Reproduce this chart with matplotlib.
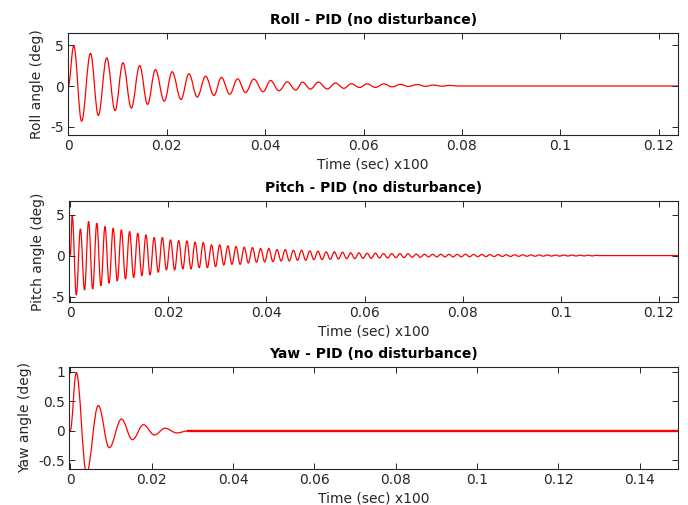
import matplotlib
matplotlib.use("Agg")
import matplotlib.pyplot as plt
from matplotlib.path import Path
from matplotlib.patches import PathPatch

# --- values --------------------------------------------------------------
# Roll: extrema of the damped oscillation (time x100 s, deg)
roll_t = [0.0, 0.0011, 0.0027, 0.0045, 0.0061, 0.0078, 0.0095, 0.0111, 0.0128,
          0.0145, 0.0161, 0.0177, 0.0195, 0.0211, 0.0229, 0.0245, 0.0262, 0.0279,
          0.0296, 0.0311, 0.0328, 0.0344, 0.0360, 0.0377, 0.0396, 0.0411, 0.0428,
          0.0445, 0.0462, 0.0476, 0.0492, 0.0508, 0.0526, 0.0543, 0.0560, 0.0575,
          0.0592, 0.0607, 0.0624, 0.0641, 0.0658, 0.0675, 0.0691, 0.0709, 0.0726,
          0.0742, 0.0759, 0.0776, 0.0792, 0.1239]
roll_v = [0.0, 4.95, -4.3, 4.0, -3.6, 3.45, -3.0, 2.85, -2.7,
          2.5, -2.25, 2.0, -1.85, 1.75, -1.65, 1.5, -1.35, 1.2,
          -1.15, 1.05, -1.0, 0.88, -0.8, 0.85, -0.7, 0.68, -0.58,
          0.5, -0.5, 0.48, -0.38, 0.48, -0.36, 0.36, -0.28, 0.28,
          -0.18, 0.27, -0.17, 0.26, -0.1, 0.2, -0.05, 0.18, -0.04,
          0.12, -0.02, 0.08, 0.0, 0.0]

# Pitch: first crest time, oscillation period, crest / trough heights per cycle
pitch_t0 = 0.0004
pitch_period = 0.00167
pitch_end = 0.1239
pitch_peaks = [4.88, 3.25, 4.15, 3.94, 3.54, 3.33, 3.13, 2.93, 2.72, 2.52, 2.2,
               2.2, 1.91, 1.83, 1.79, 1.63, 1.59, 1.3, 1.3, 1.18, 1.1, 1.02,
               0.98, 0.85, 0.85, 0.73, 0.73, 0.65, 0.65, 0.57, 0.53, 0.45, 0.45,
               0.41, 0.33, 0.33, 0.28, 0.3, 0.24, 0.24, 0.24, 0.22, 0.18, 0.16,
               0.16, 0.16, 0.15, 0.15, 0.16, 0.14, 0.14, 0.12, 0.12, 0.1, 0.1,
               0.1, 0.08, 0.08, 0.08, 0.06, 0.06, 0.06, 0.05, 0.05, 0.04]
pitch_troughs = [-4.8, -4.2, -4.07, -3.66, -3.37, -3.09, -2.85, -2.68, -2.44,
                 -2.36, -2.03, -1.75, -1.75, -1.63, -1.63, -1.46, -1.46, -1.34,
                 -1.14, -1.06, -1.06, -0.9, -0.8, -0.77, -0.73, -0.65, -0.65,
                 -0.57, -0.57, -0.49, -0.49, -0.45, -0.41, -0.37, -0.37, -0.33,
                 -0.33, -0.28, -0.28, -0.24, -0.24, -0.2, -0.2, -0.16, -0.16,
                 -0.16, -0.16, -0.15, -0.14, -0.13, -0.12, -0.11, -0.1, -0.1,
                 -0.09, -0.08, -0.08, -0.07, -0.06, -0.06, -0.05, -0.05, -0.04,
                 -0.04]

# Yaw: extrema of the damped oscillation, then a noisy flat tail at zero
yaw_t = [0.0, 0.0015, 0.0040, 0.0069, 0.0096, 0.0126, 0.0153, 0.0180, 0.0207,
         0.0233, 0.0262, 0.0290]
yaw_v = [0.0, 0.99, -0.72, 0.43, -0.285, 0.2, -0.15, 0.105, -0.07,
         0.045, -0.035, 0.0]
yaw_end = 0.15

xticks_a = [0, 0.02, 0.04, 0.06, 0.08, 0.1, 0.12]
xlabels_a = ["0", "0.02", "0.04", "0.06", "0.08", "0.1", "0.12"]
xticks_y = [0, 0.02, 0.04, 0.06, 0.08, 0.1, 0.12, 0.14]
xlabels_y = ["0", "0.02", "0.04", "0.06", "0.08", "0.1", "0.12", "0.14"]
yticks_rp = [-5, 0, 5]
ylabels_rp = ["-5", "0", "5"]
yticks_yaw = [-0.5, 0, 0.5, 1]
ylabels_yaw = ["-0.5", "0", "0.5", "1"]

# pitch line: crest, trough, crest, ... then flat to the end
pitch_t = [0.0]
pitch_v = [0.0]
for k, p in enumerate(pitch_peaks):
    pitch_t.append(pitch_t0 + k * pitch_period)
    pitch_v.append(p)
    if k < len(pitch_troughs):
        pitch_t.append(pitch_t0 + (k + 0.5) * pitch_period)
        pitch_v.append(pitch_troughs[k])
pitch_t += [pitch_t[-1] + pitch_period / 4, pitch_end]
pitch_v += [0.0, 0.0]

GRAY = "#262626"
plt.rcParams["font.family"] = "DejaVu Sans"
plt.rcParams["font.size"] = 10

fig = plt.figure(figsize=(6.88, 5.05), dpi=100)


def wave(ax, ts, vs, lw=0.9):
    # smooth line through the extrema (flat tangent at each crest/trough)
    verts = [(ts[0], vs[0])]
    codes = [Path.MOVETO]
    for i in range(1, len(ts)):
        d = 0.37 * (ts[i] - ts[i - 1])
        verts += [(ts[i - 1] + d, vs[i - 1]), (ts[i] - d, vs[i]), (ts[i], vs[i])]
        codes += [Path.CURVE4] * 3
    ax.add_patch(PathPatch(Path(verts, codes), facecolor="none",
                           edgecolor="red", lw=lw))


def style(ax, title, ylabel, xticks, xlabels, yticks, ylabels):
    ax.set_title(title, fontsize=10, fontweight="bold", color="black", pad=6.5)
    ax.set_ylabel(ylabel, color=GRAY, labelpad=4.5)
    ax.set_xlabel("Time (sec) x100", color=GRAY, labelpad=3)
    ax.set_xticks(xticks)
    ax.set_xticklabels(xlabels)
    ax.set_yticks(yticks)
    ax.set_yticklabels(ylabels)
    ax.tick_params(direction="in", top=True, right=True, length=4, width=0.7,
                   colors=GRAY, labelcolor=GRAY, pad=3)
    for s in ax.spines.values():
        s.set_color(GRAY)
        s.set_linewidth(0.8)


ax1 = fig.add_axes([0.0993, 0.7327, 0.8862, 0.202])
wave(ax1, roll_t, roll_v)
ax1.set_xlim(0, 0.1239)
ax1.set_ylim(-6.0, 6.5)
style(ax1, "Roll - PID (no disturbance)", "Roll angle (deg)",
      xticks_a, xlabels_a, yticks_rp, ylabels_rp)

ax2 = fig.add_axes([0.1007, 0.402, 0.8848, 0.2])
wave(ax2, pitch_t, pitch_v)
ax2.set_xlim(-0.0002, 0.1239)
ax2.set_ylim(-5.65, 6.65)
style(ax2, "Pitch - PID (no disturbance)", "Pitch angle (deg)",
      xticks_a, xlabels_a, yticks_rp, ylabels_rp)

ax3 = fig.add_axes([0.1003, 0.0713, 0.8852, 0.202])
wave(ax3, yaw_t, yaw_v)
ax3.plot([yaw_t[-1], yaw_end], [0.0, 0.0], color="red", lw=1.7)
ax3.set_xlim(-0.0003, 0.1494)
ax3.set_ylim(-0.647, 1.085)
style(ax3, "Yaw - PID (no disturbance)", "Yaw angle (deg)",
      xticks_y, xlabels_y, yticks_yaw, ylabels_yaw)

fig.savefig("out.png", dpi=100)
